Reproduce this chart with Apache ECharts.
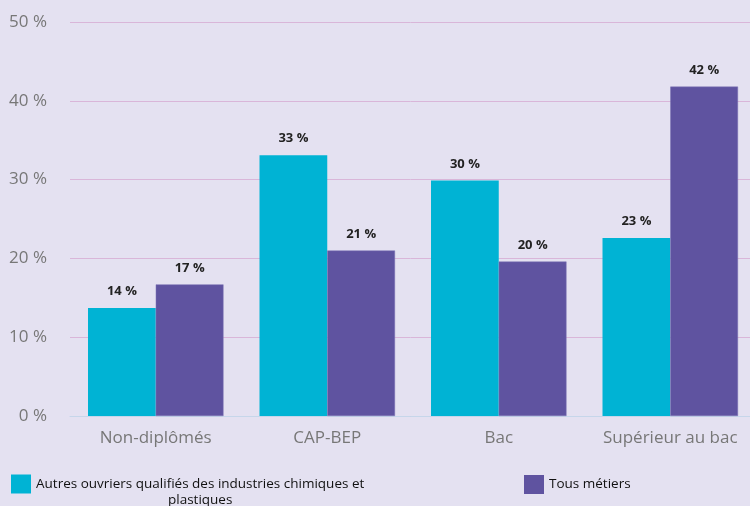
<!DOCTYPE html>
<html>
<head>
<meta charset="utf-8">
<script src="https://cdn.jsdelivr.net/npm/echarts@6/dist/echarts.min.js"></script>
<style>
  html, body { margin: 0; padding: 0; background: #e4e1f1; }
  #chart { width: 750px; height: 506px; }
</style>
</head>
<body>
<div id="chart"></div>
<script>
// données
var categories = ['Non-diplômés', 'CAP-BEP', 'Bac', 'Supérieur au bac'];
var ouvriers = [13.7, 33.1, 29.9, 22.6];
var tousMetiers = [16.7, 21.0, 19.6, 41.8];
var nomOuvriers = 'Autres ouvriers qualifiés des industries chimiques et plastiques';
var nomTous = 'Tous métiers';

var labelStyle = {
  show: true,
  position: 'top',
  distance: 10,
  fontSize: 13,
  fontWeight: 'bold',
  color: '#222',
  fontFamily: 'Open Sans',
  formatter: function (p) { return Math.round(p.value) + ' %'; }
};

var chart = echarts.init(document.getElementById('chart'));
chart.setOption({
  backgroundColor: '#e4e1f1',
  textStyle: { fontFamily: 'Open Sans' },
  grid: { left: 70, width: 686, top: 22, bottom: 90, outerBoundsMode: 'none', containLabel: false },
  legend: [
    {
      data: [nomOuvriers],
      left: 11, top: 460,
      padding: 0,
      itemWidth: 20, itemHeight: 19, itemGap: 3,
      icon: 'rect',
      itemStyle: { borderWidth: 0 },
      formatter: function () {
        return '{t|Autres ouvriers qualifiés des industries chimiques et}\n{t|plastiques}';
      },
      textStyle: {
        fontSize: 13.5, color: '#111', lineHeight: 16, padding: [16, 0, 0, 0],
        rich: { t: { align: 'center', fontSize: 13.5, color: '#111', lineHeight: 16 } }
      }
    },
    {
      data: [nomTous],
      left: 524, top: 475,
      padding: 0,
      itemWidth: 20, itemHeight: 19, itemGap: 3,
      icon: 'rect',
      itemStyle: { borderWidth: 0 },
      textStyle: { fontSize: 13.5, color: '#111' }
    }
  ],
  xAxis: {
    type: 'category',
    data: categories,
    axisLine: { lineStyle: { color: '#c6d6ea', width: 1 } },
    axisTick: { length: 16, lineStyle: { color: '#c6d6ea' } },
    axisLabel: { fontSize: 17, color: '#777', margin: 14, interval: 0 }
  },
  yAxis: {
    type: 'value',
    min: 0, max: 50, interval: 10,
    axisLine: { show: false },
    axisTick: { show: false },
    axisLabel: { fontSize: 17, color: '#777', margin: 23, formatter: '{value} %' },
    splitLine: { lineStyle: { color: '#d9b6d9', width: 1 } }
  },
  series: [
    {
      name: nomOuvriers,
      type: 'bar',
      data: ouvriers,
      barGap: 0,
      barCategoryGap: '21%',
      itemStyle: { color: '#00b3d4' },
      label: labelStyle
    },
    {
      name: nomTous,
      type: 'bar',
      data: tousMetiers,
      itemStyle: { color: '#5f53a0', borderColor: '#7a72b5', borderWidth: 0.5 },
      label: labelStyle
    }
  ]
});
</script>
</body>
</html>
